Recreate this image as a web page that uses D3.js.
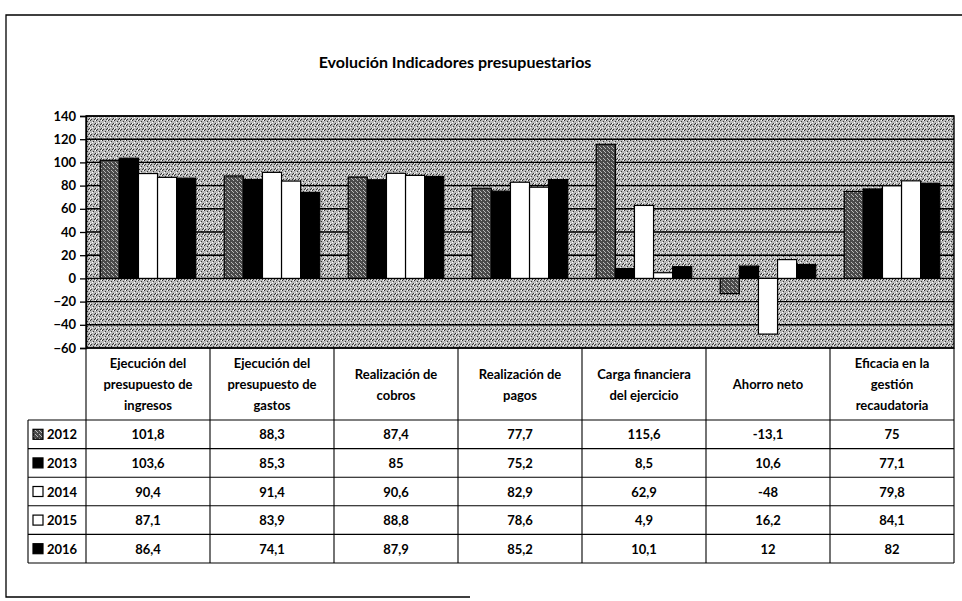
<html>

<head>
  <meta charset="utf-8">
  <title>Evolución Indicadores presupuestarios</title>
  <script type="text/javascript" src="https://cdn.jsdelivr.net/npm/d3@7"></script>
  <style>
    body { margin: 0; background: #fff; }
    text { font-family: Lato, "Open Sans", sans-serif; font-weight: bold; fill: #000; }
  </style>
</head>

<body>
  <script type="text/javascript">
    // Datos
    const categories = ["Ejecución del presupuesto de ingresos", "Ejecución del presupuesto de gastos",
      "Realización de cobros", "Realización de pagos", "Carga financiera del ejercicio",
      "Ahorro neto", "Eficacia en la gestión recaudatoria"];
    const headerLines = [
      ["Ejecución  del", "presupuesto de", "ingresos"],
      ["Ejecución del", "presupuesto de", "gastos"],
      ["Realización de", "cobros"],
      ["Realización de", "pagos"],
      ["Carga financiera", "del ejercicio"],
      ["Ahorro neto"],
      ["Eficacia en la", "gestión", "recaudatoria"]];
    const years = ["2012", "2013", "2014", "2015", "2016"];
    const v2012 = [101.8, 88.3, 87.4, 77.7, 115.6, -13.1, 75];
    const v2013 = [103.6, 85.3, 85, 75.2, 8.5, 10.6, 77.1];
    const v2014 = [90.4, 91.4, 90.6, 82.9, 62.9, -48, 79.8];
    const v2015 = [87.1, 83.9, 88.8, 78.6, 4.9, 16.2, 84.1];
    const v2016 = [86.4, 74.1, 87.9, 85.2, 10.1, 12, 82];
    const yTicks = [-60, -40, -20, 0, 20, 40, 60, 80, 100, 120, 140];

    const seriesValues = [v2012, v2013, v2014, v2015, v2016];

    const w = 962;
    const h = 601;
    const plotLeft = 86, plotRight = 954, plotTop = 116, plotBottom = 348;
    const rowH = 28.6, headH = 72, yearX = 28;

    const svg = d3.select("body").append("svg")
      .attr("width", w)
      .attr("height", h);

    // Texturas tipo escaneo
    const defs = svg.append("defs");
    const bgPat = defs.append("pattern").attr("id", "bg")
      .attr("width", 6).attr("height", 5).attr("patternUnits", "userSpaceOnUse");
    bgPat.append("rect").attr("width", 6).attr("height", 5).attr("fill", "#b9b9b9");
    [[0, 0], [3, 1], [5, 3], [1, 4], [4, 4]].forEach(function (p) {
      bgPat.append("rect").attr("x", p[0]).attr("y", p[1]).attr("width", 1).attr("height", 1).attr("fill", "#333");
    });
    [[2, 2], [5, 0], [0, 3]].forEach(function (p) {
      bgPat.append("rect").attr("x", p[0]).attr("y", p[1]).attr("width", 1).attr("height", 1).attr("fill", "#fff");
    });

    const darkPat = defs.append("pattern").attr("id", "dark")
      .attr("width", 4).attr("height", 4).attr("patternUnits", "userSpaceOnUse");
    darkPat.append("rect").attr("width", 4).attr("height", 4).attr("fill", "#4a4a4a");
    [[1, 0], [3, 2], [0, 3]].forEach(function (p) {
      darkPat.append("rect").attr("x", p[0]).attr("y", p[1]).attr("width", 1).attr("height", 1).attr("fill", "#bbb");
    });

    const fills = ["url(#dark)", "#000", "#fff", "#fff", "#000"];

    // Marco
    svg.append("path")
      .attr("d", "M962,15 L6,15 L6,597 L470,597")
      .attr("fill", "none").attr("stroke", "#000").attr("stroke-width", 1.3);

    // Título
    svg.append("text")
      .attr("x", 455).attr("y", 68)
      .attr("text-anchor", "middle")
      .attr("font-size", 16)
      .text("Evolución Indicadores presupuestarios");

    // Escalas
    const x0 = d3.scaleBand()
      .domain(categories)
      .range([plotLeft, plotRight])
      .paddingInner(0.23)
      .paddingOuter(0.115);

    const x1 = d3.scaleBand()
      .domain(years)
      .range([0, x0.bandwidth()]);

    const y = d3.scaleLinear()
      .domain([-60, 140])
      .range([plotBottom, plotTop]);

    // Fondo del área de trazado
    svg.append("rect")
      .attr("x", plotLeft).attr("y", plotTop)
      .attr("width", plotRight - plotLeft).attr("height", plotBottom - plotTop)
      .attr("fill", "url(#bg)");

    // Líneas de división
    svg.append("g")
      .selectAll("line")
      .data(yTicks)
      .enter()
      .append("line")
      .attr("x1", plotLeft).attr("x2", plotRight)
      .attr("y1", function (d) { return y(d); })
      .attr("y2", function (d) { return y(d); })
      .attr("stroke", "#000")
      .attr("stroke-width", 1.4);

    // Barras
    const groups = svg.append("g")
      .selectAll("g")
      .data(years)
      .enter()
      .append("g");

    groups.selectAll("rect")
      .data(function (yr, i) {
        return seriesValues[i].map(function (v, j) { return { year: yr, cat: categories[j], value: v, s: i }; });
      })
      .enter()
      .append("rect")
      .attr("x", function (d) { return x0(d.cat) + x1(d.year); })
      .attr("y", function (d) { return y(Math.max(0, d.value)); })
      .attr("width", x1.bandwidth())
      .attr("height", function (d) { return Math.abs(y(d.value) - y(0)); })
      .attr("fill", function (d) { return fills[d.s]; })
      .attr("stroke", "#000")
      .attr("stroke-width", 1.2);

    // Borde del área de trazado
    svg.append("rect")
      .attr("x", plotLeft).attr("y", plotTop)
      .attr("width", plotRight - plotLeft).attr("height", plotBottom - plotTop)
      .attr("fill", "none")
      .attr("stroke", "#000")
      .attr("stroke-width", 1.4);

    // Eje Y
    const yAxis = svg.append("g")
      .attr("transform", "translate(" + plotLeft + ",0)")
      .call(d3.axisLeft(y).tickValues(yTicks).tickSize(6).tickPadding(4).tickFormat(d3.format("d")));
    yAxis.select(".domain").attr("stroke", "#000").attr("stroke-width", 1.3);
    yAxis.selectAll(".tick line").attr("stroke", "#000").attr("stroke-width", 1.3);
    yAxis.selectAll("text")
      .attr("font-size", 13)
      .attr("font-family", "Lato, sans-serif")
      .attr("font-weight", "bold")
      .attr("fill", "#000");

    // Tabla de datos
    const table = svg.append("g");
    const tableTop = plotBottom;
    const rowsTop = tableTop + headH;
    const tableBottom = rowsTop + rowH * years.length;
    const colEdges = categories.map(function (c) { return x0(c) - x0.step() * x0.paddingInner() / 2; });
    colEdges.push(plotRight);

    const lineStyle = function (sel) {
      return sel.attr("stroke", "#000").attr("stroke-width", 1.1);
    };

    // Líneas verticales
    table.selectAll("line.v")
      .data(colEdges)
      .enter()
      .append("line")
      .attr("class", "v")
      .attr("x1", function (d) { return d; })
      .attr("x2", function (d) { return d; })
      .attr("y1", tableTop)
      .attr("y2", tableBottom)
      .call(lineStyle);

    table.append("line")
      .attr("x1", yearX).attr("x2", yearX)
      .attr("y1", rowsTop).attr("y2", tableBottom)
      .call(lineStyle);

    // Líneas horizontales
    table.selectAll("line.h")
      .data(d3.range(years.length + 1))
      .enter()
      .append("line")
      .attr("class", "h")
      .attr("x1", yearX).attr("x2", plotRight)
      .attr("y1", function (i) { return rowsTop + i * rowH; })
      .attr("y2", function (i) { return rowsTop + i * rowH; })
      .call(lineStyle);

    // Encabezados
    categories.forEach(function (c, j) {
      const lines = headerLines[j];
      const cx = (colEdges[j] + colEdges[j + 1]) / 2;
      const cy = tableTop + headH / 2;
      const t = table.append("text")
        .attr("x", cx)
        .attr("text-anchor", "middle")
        .attr("font-size", 13);
      lines.forEach(function (l, k) {
        t.append("tspan")
          .attr("x", cx)
          .attr("y", cy + (k - (lines.length - 1) / 2) * 21 + 5)
          .text(l);
      });
    });

    // Leyenda y valores
    years.forEach(function (yr, i) {
      const cy = rowsTop + i * rowH + rowH / 2;
      table.append("rect")
        .attr("x", yearX + 5).attr("y", cy - 5)
        .attr("width", 10).attr("height", 10)
        .attr("fill", fills[i])
        .attr("stroke", "#000").attr("stroke-width", 1.2);
      table.append("text")
        .attr("x", yearX + 19).attr("y", cy + 5)
        .attr("font-size", 13)
        .text(yr);
      seriesValues[i].forEach(function (v, j) {
        table.append("text")
          .attr("x", (colEdges[j] + colEdges[j + 1]) / 2)
          .attr("y", cy + 5)
          .attr("text-anchor", "middle")
          .attr("font-size", 13)
          .text(String(v).replace(".", ","));
      });
    });
  </script>
</body>

</html>
